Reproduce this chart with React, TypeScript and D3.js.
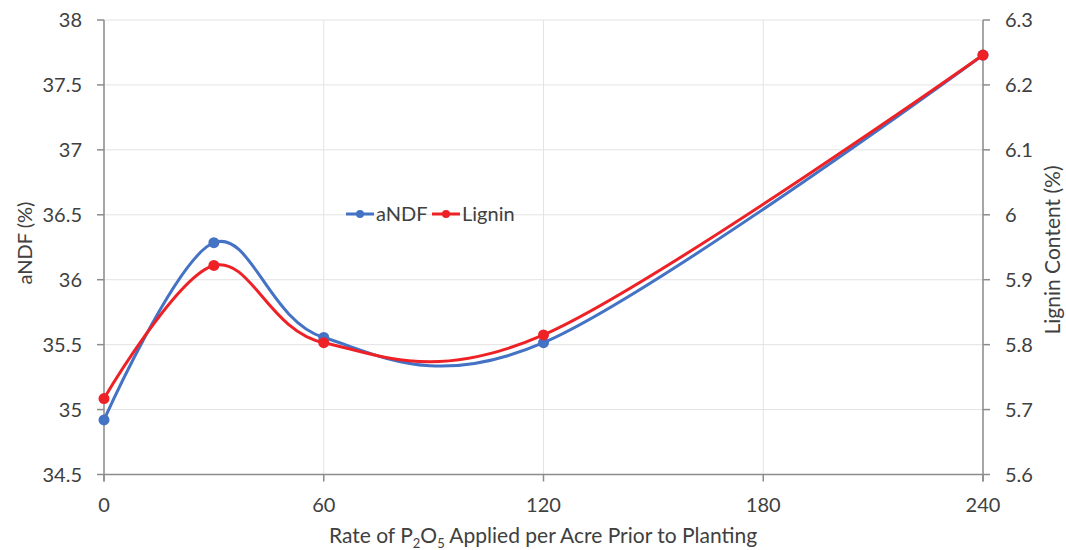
import React from "react";
import * as d3 from "d3";

const rates = [0, 30, 60, 120, 240];
const andf = [34.92, 36.285, 35.555, 35.515, 37.73];
const lignin = [5.717, 5.922, 5.803, 5.815, 6.246];
const leftTicks = [34.5, 35, 35.5, 36, 36.5, 37, 37.5, 38];
const rightTicks = [5.6, 5.7, 5.8, 5.9, 6.0, 6.1, 6.2, 6.3];
const xTicks = [0, 60, 120, 180, 240];

const W = 1066, H = 550;
const L = 104, R = 983, T = 20, B = 474.5;
const font = "Lato, 'Open Sans', sans-serif";
const txt = "#404040";
const blue = "#4472C4";
const red = "#EE2226";

export default function App() {
  const x = d3.scaleLinear().domain([0, 240]).range([L, R]);
  const yL = d3.scaleLinear().domain([34.5, 38]).range([B, T]);
  const yR = d3.scaleLinear().domain([5.6, 6.3]).range([B, T]);
  const lineL = d3.line<number>().x((_, i) => x(rates[i])).y(d => yL(d)).curve(d3.curveCardinal.tension(0));
  const lineR = d3.line<number>().x((_, i) => x(rates[i])).y(d => yR(d)).curve(d3.curveCardinal.tension(0));
  const fmt = (t: number) => String(+t.toFixed(1));
  return (
    <svg width={W} height={H} style={{ position: "absolute", left: 0, top: 0, background: "#fff" }} fontFamily={font}>
      {leftTicks.map(t => (
        <line key={"gh" + t} x1={L} x2={R} y1={yL(t)} y2={yL(t)} stroke="#e3e3e3" strokeWidth={1} />
      ))}
      {xTicks.map(t => (
        <line key={"gv" + t} x1={x(t)} x2={x(t)} y1={T} y2={B} stroke="#e3e3e3" strokeWidth={1} />
      ))}
      <line x1={L} x2={R} y1={B} y2={B} stroke="#8c8c8c" strokeWidth={1.5} />
      <line x1={L} x2={L} y1={T} y2={B + 7} stroke="#8c8c8c" strokeWidth={1.5} />
      <line x1={R} x2={R} y1={T} y2={B + 7} stroke="#8c8c8c" strokeWidth={1.5} />
      {xTicks.map(t => (
        <g key={"xt" + t}>
          <line x1={x(t)} x2={x(t)} y1={B} y2={B + 7} stroke="#8c8c8c" strokeWidth={1.5} />
          <text x={x(t)} y={512} textAnchor="middle" fontSize={20} fill={txt}>{t}</text>
        </g>
      ))}
      {leftTicks.map(t => (
        <g key={"lt" + t}>
          <line x1={L - 7} x2={L} y1={yL(t)} y2={yL(t)} stroke="#8c8c8c" strokeWidth={1.5} />
          <text x={82} y={yL(t) + 7} textAnchor="end" fontSize={20} fill={txt}>{t}</text>
        </g>
      ))}
      {rightTicks.map(t => (
        <g key={"rt" + t}>
          <line x1={R} x2={R + 7} y1={yR(t)} y2={yR(t)} stroke="#8c8c8c" strokeWidth={1.5} />
          <text x={1005} y={yR(t) + 7} textAnchor="start" fontSize={20} fill={txt}>{fmt(t)}</text>
        </g>
      ))}
      <text transform={`translate(32,243) rotate(-90)`} textAnchor="middle" fontSize={20} fill={txt}>aNDF (%)</text>
      <text transform={`translate(1060,250) rotate(-90)`} textAnchor="middle" fontSize={21} fill={txt}>Lignin Content (%)</text>
      <text x={543} y={543} textAnchor="middle" fontSize={21} fill={txt}>
        Rate of P<tspan fontSize={13} dy={5}>2</tspan><tspan dy={-5}>O</tspan><tspan fontSize={13} dy={5}>5</tspan><tspan dy={-5}> Applied per Acre Prior to Planting</tspan>
      </text>
      <path d={lineL(andf) || ""} fill="none" stroke={blue} strokeWidth={3} />
      {andf.map((v, i) => <circle key={"a" + i} cx={x(rates[i])} cy={yL(v)} r={5.5} fill={blue} />)}
      <path d={lineR(lignin) || ""} fill="none" stroke={red} strokeWidth={3} />
      {lignin.map((v, i) => <circle key={"l" + i} cx={x(rates[i])} cy={yR(v)} r={5.5} fill={red} />)}
      <g>
        <line x1={346} x2={374} y1={214} y2={214} stroke={blue} strokeWidth={3} />
        <circle cx={360} cy={214} r={4} fill={blue} />
        <text x={376} y={221} fontSize={20} fill={txt}>aNDF</text>
        <line x1={432} x2={460} y1={214} y2={214} stroke={red} strokeWidth={3} />
        <circle cx={446} cy={214} r={4} fill={red} />
        <text x={462} y={221} fontSize={20} fill={txt}>Lignin</text>
      </g>
    </svg>
  );
}
